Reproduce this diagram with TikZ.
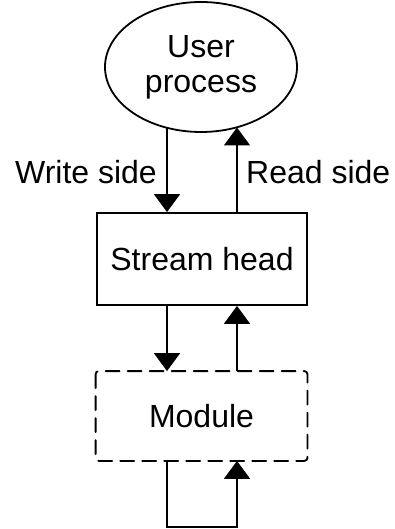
\documentclass[tikz,border=0pt]{standalone}
\usepackage{fontspec}
\setmainfont{Liberation Sans}
\usetikzlibrary{arrows.meta,shapes.geometric,calc}
\begin{document}
\begin{tikzpicture}[x=1pt,y=-1pt,
  lbl/.style={font=\fontsize{32}{35}\selectfont},
  arr/.style={line width=1.8pt,-{Triangle[width=26pt,length=18pt]}},
  boxs/.style={draw,line width=1.8pt,minimum width=210pt,minimum height=92pt,inner sep=0pt,lbl},
  ell/.style={draw,ellipse,line width=1.8pt,minimum width=192pt,minimum height=130pt,inner sep=0pt,lbl,align=center}]
\useasboundingbox (0,0) rectangle (394,529);
\node[ell] (user) at (201,67) {User\\process};
\node[boxs] (sh) at (202,259) {Stream head};
\node[boxs,draw=none,minimum height=88pt] (mod) at (201.5,416) {Module};
\draw[line width=1.8pt,dash pattern=on 14pt off 8pt,rounded corners=3pt,line cap=round] (mod.north west) rectangle (mod.south east);
\coordinate (wx) at (167,0);
\coordinate (rx) at (237,0);
\coordinate (ue) at ($(user.center)+(-34,61)$);
\coordinate (ur) at ($(user.center)+(36,60.5)$);
\coordinate (bl) at (167,527);
\coordinate (br) at (237,527);
\draw[arr] (ue) -- (sh.north -| wx);
\draw[arr] (sh.north -| rx) -- (ur);
\draw[arr] (sh.south -| wx) -- (mod.north -| wx);
\draw[arr] (mod.north -| rx) -- (sh.south -| rx);
\draw[arr] (mod.south -| wx) -- (bl) -- (br) -- (mod.south -| rx);
\node[lbl,anchor=east,inner sep=1pt] (ws) at (158,172) {Write side};
\node[lbl,anchor=west,inner sep=1pt] (rs) at (245,172) {Read side};
\end{tikzpicture}
\end{document}
